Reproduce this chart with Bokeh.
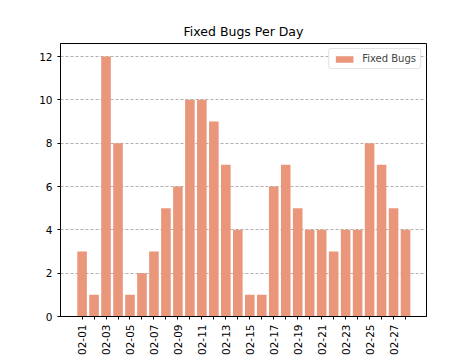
from bokeh.plotting import figure
from bokeh.models import FixedTicker, ColumnDataSource, Range1d, Legend, LegendItem
from bokeh.embed import file_html
from bokeh.resources import INLINE

dates = ["02-%02d" % d for d in range(1, 29)]
fixed_bugs = [3, 1, 12, 8, 1, 2, 3, 5, 6, 10, 10, 9, 7, 4, 1, 1, 6, 7, 5, 4, 4, 3, 4, 4, 8, 7, 5, 4]
y_ticks = [0, 2, 4, 6, 8, 10, 12]

idx = list(range(len(dates)))
src = ColumnDataSource(dict(x=idx, top=fixed_bugs, label=dates))

FONT = "DejaVu Sans"
p = figure(frame_width=366, frame_height=273, output_backend="svg", toolbar_location=None,
           x_range=Range1d(-1.8, 28.75), y_range=Range1d(0, 12.6),
           min_border_left=60, min_border_right=48, min_border_top=43, min_border_bottom=30,
           title="Fixed Bugs Per Day")
p.title.align = "center"
p.title.text_font = FONT
p.title.text_font_size = "12.5px"
p.title.text_font_style = "normal"
p.title.text_color = "black"

r = p.vbar(x="x", top="top", width=0.8, source=src, fill_color="#E9967A", line_color=None)

p.xaxis.ticker = FixedTicker(ticks=idx)
p.xaxis.major_label_overrides = {i: (dates[i] if i % 2 == 0 else "") for i in idx}
p.xaxis.major_label_orientation = 1.5708
p.yaxis.ticker = FixedTicker(ticks=y_ticks)
for ax in (p.xaxis, p.yaxis):
    ax.major_label_text_font = FONT
    ax.major_label_text_font_size = "10.5px"
    ax.major_label_text_color = "black"
    ax.major_tick_in = 0
    ax.major_tick_out = 3
    ax.minor_tick_line_color = None
    ax.axis_line_color = "black"
    ax.major_tick_line_color = "black"
p.xgrid.grid_line_color = None
p.ygrid.grid_line_color = "#b0b0b0"
p.ygrid.grid_line_dash = "3 2"
p.outline_line_color = "black"
p.outline_line_alpha = 1.0

legend = Legend(items=[LegendItem(label="Fixed Bugs", renderers=[r])], location="top_right")
legend.label_text_font = FONT
legend.label_text_font_size = "10px"
legend.border_line_color = "#cccccc"
legend.border_radius = 3
legend.glyph_width = 22
legend.glyph_height = 8
legend.padding = 4
legend.margin = 5
legend.spacing = 0
legend.label_standoff = 7
p.add_layout(legend)

open("out.html", "w").write(file_html(p, INLINE))
